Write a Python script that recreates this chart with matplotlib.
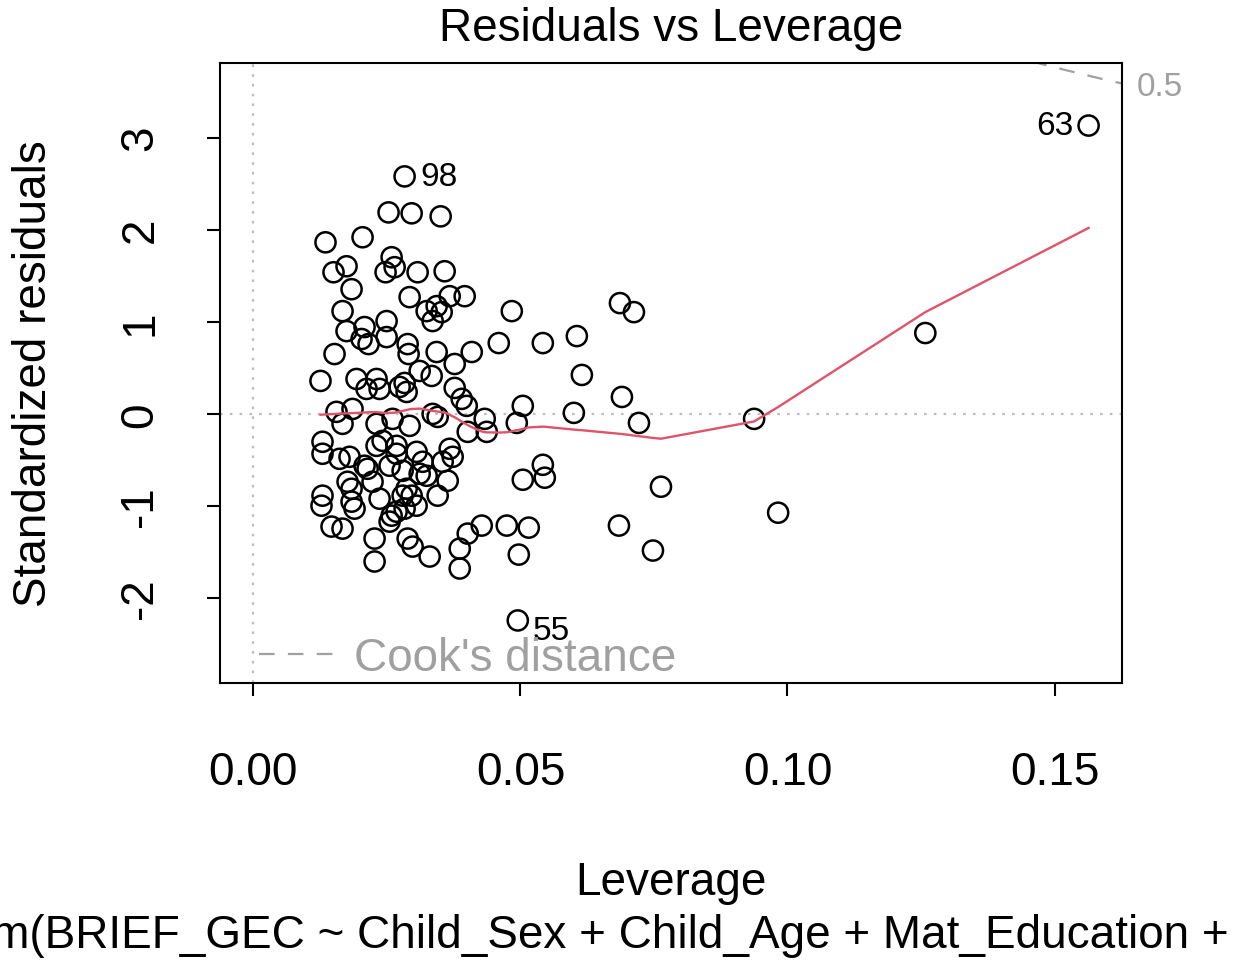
import numpy as np
import matplotlib
matplotlib.use("Agg")
import matplotlib.pyplot as plt
import matplotlib.transforms as mtransforms
from matplotlib.lines import Line2D

plt.rcParams['font.family'] = ['Liberation Sans', 'DejaVu Sans']

# leverage (hat values) and standardized residuals of the fitted model
leverage = [
    0.02831, 0.02531, 0.02963, 0.03506, 0.0135, 0.02044, 0.0150, 0.01744,
    0.02588, 0.02475, 0.02644, 0.03075, 0.03581, 0.01838, 0.02925, 0.03675,
    0.03956, 0.03244, 0.03431, 0.03525, 0.03356, 0.01669, 0.01744, 0.02081,
    0.02025, 0.02156, 0.02494, 0.02494, 0.02888, 0.02906, 0.01519, 0.03431,
    0.04088, 0.04594, 0.04838, 0.01256, 0.01931, 0.02119, 0.02306, 0.02363,
    0.02738, 0.02831, 0.02869, 0.03113, 0.03338, 0.03769, 0.03769, 0.0390,
    0.03994,
    0.01556, 0.01856, 0.01669, 0.02306, 0.02606, 0.02925, 0.03356, 0.0345,
    0.04013, 0.04331, 0.04369, 0.04931,
    0.01294, 0.01294, 0.01613, 0.0180, 0.02081, 0.02138, 0.02306, 0.02419,
    0.02681, 0.0255, 0.02681, 0.03056, 0.03169, 0.03113, 0.03244, 0.03544,
    0.03675, 0.03731, 0.02794, 0.02869, 0.01763, 0.01838, 0.02231, 0.02363,
    0.02794, 0.02963, 0.03056, 0.0345, 0.03638, 0.01294, 0.01275, 0.01838,
    0.01894, 0.01463, 0.01669, 0.02588, 0.0255, 0.02681, 0.02831, 0.02269,
    0.02269, 0.02888, 0.02981, 0.0330, 0.03863, 0.03863, 0.04013, 0.04275,
    0.04744,
    0.05419, 0.06056, 0.0615, 0.06863, 0.07125, 0.0690, 0.05044, 0.0600,
    0.07219, 0.05419, 0.05456, 0.05044, 0.07631, 0.05156, 0.06844, 0.04969,
    0.07481, 0.0495, 0.09375, 0.09825, 0.12581, 0.15638,
]
std_resid = [
    2.579, 2.188, 2.178, 2.145, 1.863, 1.918, 1.538, 1.603,
    1.701, 1.538, 1.593, 1.538, 1.549, 1.354, 1.268, 1.278,
    1.278, 1.116, 1.170, 1.105, 1.008, 1.116, 0.899, 0.943,
    0.813, 0.758, 1.008, 0.834, 0.758, 0.650, 0.650, 0.672,
    0.672, 0.769, 1.116, 0.358, 0.379, 0.271, 0.379, 0.271,
    0.293, 0.336, 0.238, 0.466, 0.412, 0.542, 0.282, 0.163,
    0.087,
    0.022, 0.054, -0.108, -0.108, -0.054, -0.130, 0.0, -0.033,
    -0.195, -0.054, -0.195, -0.098,
    -0.303, -0.433, -0.488, -0.466, -0.563, -0.596, -0.347, -0.293,
    -0.347, -0.563, -0.433, -0.412, -0.520, -0.650, -0.672, -0.520,
    -0.379, -0.466, -0.618, -0.813, -0.737, -0.813, -0.737, -0.921,
    -0.888, -0.888, -0.997, -0.888, -0.726, -0.888, -0.997, -0.953,
    -1.029, -1.224, -1.246, -1.105, -1.170, -1.062, -1.029, -1.354,
    -1.603, -1.354, -1.441, -1.549, -1.463, -1.679, -1.300, -1.213,
    -1.213,
    0.769, 0.845, 0.423, 1.203, 1.105, 0.184, 0.087, 0.011,
    -0.098, -0.553, -0.693, -0.715, -0.791, -1.235, -1.213, -1.528,
    -1.484, -2.243, -0.054, -1.073, 0.878, 3.131,
]
# observations flagged with their row number
flagged = {0: "98", 127: "55", 131: "63"}

n_coef = 5
cook_levels = [0.5, 1.0]
model_call = "lm(BRIEF_GEC ~ Child_Sex + Child_Age + Mat_Education + ...)"


def lowess(x, y, f=2 / 3, iters=3):
    # locally weighted linear fit with bisquare robustness steps
    order = np.argsort(x, kind="stable")
    x = np.asarray(x, float)[order]
    y = np.asarray(y, float)[order]
    n = len(x)
    ns = max(min(int(f * n + 1e-7), n), 2)
    xr = x[-1] - x[0]
    rw = np.ones(n)
    ys = np.zeros(n)
    for it in range(iters + 1):
        for i in range(n):
            d = np.abs(x - x[i])
            h = np.sort(d)[ns - 1]
            w = np.zeros(n)
            if h > 0:
                r = d / h
                w = np.where(r <= 0.999, (1 - r ** 3) ** 3, 0.0)
                w[r <= 0.001] = 1.0
            else:
                w[d == 0] = 1.0
            w = w * rw
            if w.sum() <= 0:
                ys[i] = y[i]
                continue
            w = w / w.sum()
            a = np.sum(w * x)
            c = np.sum(w * (x - a) ** 2)
            if np.sqrt(c) > 0.001 * xr:
                b = (x[i] - a) / c
                w = w * (b * (x - a) + 1)
            ys[i] = np.sum(w * y)
        if it == iters:
            break
        res = y - ys
        cmad = 6 * np.median(np.abs(res))
        if cmad < 1e-7 * np.mean(np.abs(y)):
            break
        r = np.abs(res) / cmad
        rw = np.where(r <= 0.999, (1 - r ** 2) ** 2, 0.0)
        rw[r <= 0.001] = 1.0
    return x, ys


lev = np.array(leverage)
rs = np.array(std_resid)

W, H = 1236, 962
fig = plt.figure(figsize=(W / 100, H / 100), dpi=100)
ax = fig.add_axes([220 / W, 1 - 684 / H, (1122 - 220) / W, (684 - 64) / H])

grey_dot = "#BEBEBE"
grey = "#A0A0A0"
fs = 33
fs_id = 24

# axis limits the way base graphics extends them
x_hi = lev.max()
ax.set_xlim(0 - 0.04 * x_hi, x_hi + 0.04 * x_hi)
lo, hi = rs.min(), rs.max()
lo, hi = lo - 0.08 * (hi - lo), hi + 0.08 * (hi - lo)
span = hi - lo
ax.set_ylim(lo - 0.04 * span, hi + 0.04 * span)

ax.axhline(0, color=grey_dot, lw=1.6, ls=(0, (1.2, 3.2)), zorder=1)
ax.axvline(0, color=grey_dot, lw=1.6, ls=(0, (1.2, 3.2)), zorder=1)

ax.scatter(lev, rs, s=14.5 ** 2, facecolors="none", edgecolors="black",
           linewidths=1.8, zorder=3)

sx, sy = lowess(lev, rs)
ax.plot(sx, sy, color="#DF536B", lw=1.7, zorder=4)

# Cook's distance contours
usr = ax.get_xlim()
hh = np.linspace(min(lev[0], lev[1] / 100), usr[1], 101)
for crit in cook_levels:
    cl = np.sqrt(crit * n_coef * (1 - hh) / hh)
    ax.plot(hh, cl, color=grey, lw=1.6, ls=(0, (7, 6)), zorder=2)
    ax.plot(hh, -cl, color=grey, lw=1.6, ls=(0, (7, 6)), zorder=2)

xmax = min(0.99, usr[1])
ymult = np.sqrt(n_coef * (1 - xmax) / xmax)
ylo, yhi = ax.get_ylim()
trans = mtransforms.blended_transform_factory(ax.transAxes, ax.transData)
offset = mtransforms.ScaledTranslation(0, -2.5 / 72, fig.dpi_scale_trans)
for crit in cook_levels:
    for yv in (np.sqrt(crit) * ymult, -np.sqrt(crit) * ymult):
        if ylo <= yv <= yhi:
            ax.text(1.0166, yv, f"{crit:g}", transform=trans + offset,
                    color=grey, fontsize=fs_id, ha="left", va="center",
                    clip_on=False)

for i, lab in flagged.items():
    right = lev[i] > np.mean(ax.get_xlim())
    dx = -11 if right else 11
    dy = -7 if lab == "55" else 0
    ax.annotate(lab, (lev[i], rs[i]), xytext=(dx, dy), textcoords="offset points",
                ha="right" if right else "left", va="center",
                fontsize=fs_id, zorder=5)

leg = ax.legend(handles=[Line2D([], [], color=grey, lw=1.6, ls=(0, (7, 6)))],
                labels=["Cook's distance"], loc="center left",
                bbox_to_anchor=(0.043, 0.040), frameon=False, fontsize=fs,
                handlelength=1.72, handletextpad=0.36, borderpad=0,
                borderaxespad=0)
for t in leg.get_texts():
    t.set_color(grey)

ax.set_xticks([0.0, 0.05, 0.10, 0.15])
ax.set_xticklabels(["0.00", "0.05", "0.10", "0.15"])
ax.set_yticks([-2, -1, 0, 1, 2, 3])
ax.set_yticklabels(["-2", "-1", "0", "1", "2", "3"], rotation=90, va="center")
ax.tick_params(axis="both", direction="out", length=9.5, width=1.5,
               labelsize=fs, color="black")
ax.tick_params(axis="x", pad=39)
ax.tick_params(axis="y", pad=32)
for sp in ax.spines.values():
    sp.set_linewidth(1.5)

fig.text(671 / W, 1 - 41 / H, "Residuals vs Leverage", fontsize=fs,
         ha="center", va="baseline")
fig.text(671 / W, 1 - 895 / H, "Leverage", fontsize=fs,
         ha="center", va="baseline")
fig.text(-19 / W, 1 - 948 / H, model_call, fontsize=fs,
         ha="left", va="baseline")
fig.text(46 / W, 1 - 374 / H, "Standardized residuals", fontsize=fs,
         rotation=90, rotation_mode="anchor", ha="center", va="baseline")

fig.savefig("out.png", dpi=100, facecolor="white")
